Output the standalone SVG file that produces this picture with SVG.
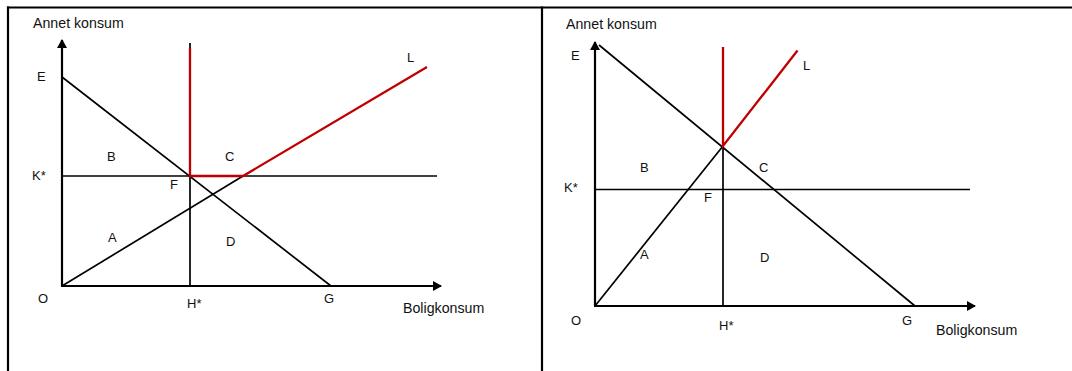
<svg xmlns="http://www.w3.org/2000/svg" width="1072" height="371" viewBox="0 0 1072 371">
<style>
.frame{stroke:#000;stroke-width:2.2;fill:none}
.axis{stroke:#000;stroke-width:2.2;fill:none}
.ln{stroke:#000;stroke-width:1.7;fill:none}
.red{stroke:#c00000;stroke-width:2.3;fill:none}
text{font-family:"Liberation Sans",Arial,sans-serif;font-size:13px;fill:#111}
.title{font-size:14.2px}
</style>
<defs>
<marker id="arr" markerWidth="10" markerHeight="10" refX="8" refY="5" orient="auto" markerUnits="userSpaceOnUse">
<path d="M0,0 L9,5 L0,10 Z" fill="#000"/>
</marker>
</defs>
<rect width="1072" height="371" fill="#fff"/>
<g id="frame">
<line class="frame" x1="7" y1="7.5" x2="1072" y2="7.5"/>
<line class="frame" x1="8" y1="6.5" x2="8" y2="371"/>
<line class="frame" x1="542" y1="6.5" x2="542" y2="371"/>
</g>
<g id="connectors">
<line class="axis" x1="62" y1="286" x2="62" y2="40" marker-end="url(#arr)"/>
<line class="axis" x1="61" y1="286" x2="441" y2="286" marker-end="url(#arr)"/>
<line class="ln" x1="62" y1="77" x2="331" y2="286"/>
<line class="ln" x1="62" y1="176" x2="437" y2="176"/>
<line class="ln" x1="190" y1="43" x2="190" y2="286"/>
<line class="ln" x1="62" y1="286" x2="243" y2="176"/>
<polyline class="red" points="190,48 190,176 243,176 427,67"/>
<line class="axis" x1="595" y1="306" x2="595" y2="42" marker-end="url(#arr)"/>
<line class="axis" x1="594" y1="306" x2="975" y2="306" marker-end="url(#arr)"/>
<line class="ln" x1="599" y1="45" x2="915" y2="306"/>
<line class="ln" x1="595" y1="189.5" x2="970" y2="189.5"/>
<line class="ln" x1="723" y1="146" x2="723" y2="306"/>
<line class="ln" x1="595" y1="306" x2="723" y2="146"/>
<polyline class="red" points="723,47 723,146 797.5,50.5"/>
</g>
<g id="labels-left">
<text class="title" x="33" y="28">Annet konsum</text>
<text class="title" x="403" y="313">Boligkonsum</text>
<text x="37" y="81">E</text>
<text x="32" y="180">K*</text>
<text x="107" y="161">B</text>
<text x="225" y="161">C</text>
<text x="170" y="189">F</text>
<text x="108" y="242">A</text>
<text x="226" y="246">D</text>
<text x="38" y="303">O</text>
<text x="187" y="308">H*</text>
<text x="324" y="303">G</text>
<text x="407" y="62">L</text>
</g>
<g id="labels-right">
<text class="title" x="566" y="29">Annet konsum</text>
<text class="title" x="936" y="335">Boligkonsum</text>
<text x="571" y="60">E</text>
<text x="564" y="192">K*</text>
<text x="640" y="172">B</text>
<text x="759" y="172">C</text>
<text x="704" y="202">F</text>
<text x="640" y="259">A</text>
<text x="760" y="262">D</text>
<text x="571" y="325">O</text>
<text x="719" y="330">H*</text>
<text x="902" y="325">G</text>
<text x="803" y="70">L</text>
</g>
</svg>
